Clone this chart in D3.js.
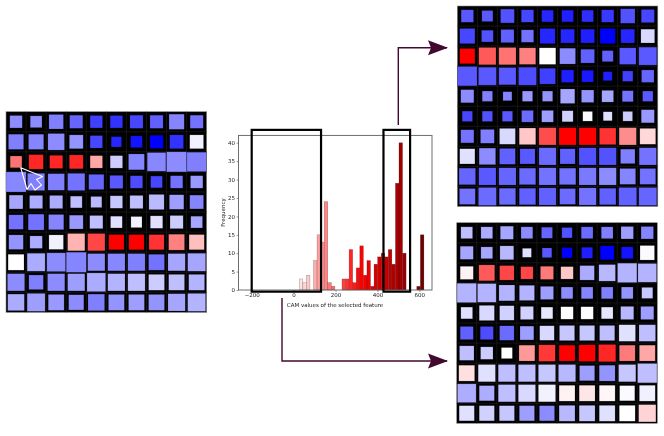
<!DOCTYPE html>
<html lang="en">
<head>
  <meta charset="UTF-8">
  <title>CAM values of the selected feature</title>
  <script src="https://cdn.jsdelivr.net/npm/d3@7"></script>
  <style>
    body{ margin:0; padding:0; background:#fff; }
    /* the reference is a downscaled figure, everything in it is a bit soft */
    svg{ display:block; font-family:"DejaVu Sans",sans-serif; filter:blur(0.35px); }
    .axis text{ font-size:5.5px; fill:#222; font-family:"DejaVu Sans",sans-serif; }
    .axis line{ stroke:#444; stroke-width:0.5; }
    .axis path{ display:none; }
    .axisLabel{ font-size:5.5px; fill:#222; }
    .spine{ fill:none; stroke:#5f5f5f; stroke-width:0.9; }
    .bar{ stroke:#000; stroke-opacity:0.35; stroke-width:0.5; }
    .window{ fill:none; stroke:#000; stroke-width:2.2; }
    .link{ fill:none; stroke:#43082f; stroke-width:1.4; }
    .head{ fill:#43082f; }
    .frame{ fill:#000; stroke:#8a8a8a; stroke-width:0.6; }
    .gridLine{ stroke:#222; stroke-width:0.6; }
    .cell{ stroke:#000; stroke-opacity:0.3; stroke-width:0.5; }
    .cursor{ fill:none; stroke:#fff; stroke-width:1.1; stroke-linejoin:round; }
  </style>
</head>
<body>
<div id="chart"></div>
<script>
// histogram
const binStarts = [27,44,61,78,95,112,129,146,163,180,197,214,231,248,265,282,299,316,333,350,367,384,401,418,435,452,469,486,503,520,537,554,571,588,605];
const binCounts = [3,2,4,0,8,15,13,24,2,1,0,0,3,3,11,2,6,12,4,8,1,7,9,10,9,11,7,29,40,10,0,0,0,1,15];
const binWidth = 17;
const xTicks = [-200,0,200,400,600];
const yTicks = [0,5,10,15,20,25,30,35,40];
const windowLeft = [-200,131];
const windowRight = [429,556];

// cell colour (-1 blue .. 1 red) and cell magnitude (58 = full cell)
const leftValues = [
  [-.45,-.45,-.5,-.6,-.75,-.8,-.72,-.62,-.48,-.55],
  [-.5,-.48,-.45,-.42,-.72,-.85,-.92,-1,-.8,-.05],
  [.55,.85,.85,.85,.35,-.2,-.48,-.47,-.45,-.5],
  [-.47,-.5,-.5,-.55,-.6,-.65,-.7,-.72,-.55,-.4],
  [-.35,-.33,-.33,-.25,-.27,-.22,-.25,-.27,-.38,-.48],
  [-.55,-.55,-.48,-.4,-.25,-.12,-.05,-.12,-.2,-.35],
  [-.42,-.32,-.05,.3,.72,1,1,.8,.5,.25],
  [0,-.33,-.45,-.48,-.45,-.47,-.5,-.55,-.35,-.35],
  [-.45,-.5,-.45,-.38,-.33,-.3,-.25,-.2,-.25,-.3],
  [-.33,-.38,-.4,-.45,-.5,-.42,-.38,-.42,-.35,-.3]
];
const leftSizes = [
  [36,34,42,38,36,36,38,38,44,38],
  [44,44,48,40,36,30,34,38,40,40],
  [34,42,38,40,36,36,46,54,58,56],
  [58,50,48,50,44,38,36,34,36,36],
  [40,38,38,34,32,36,38,44,42,40],
  [42,46,44,40,38,34,32,36,38,34],
  [42,36,42,50,50,44,44,44,46,44],
  [46,52,54,58,50,50,50,46,50,52],
  [50,42,50,50,54,50,50,46,46,46],
  [48,52,46,44,48,46,46,46,50,52]
];
const topValues = [
  [-.65,-.65,-.68,-.72,-.85,-.88,-.82,-.78,-.68,-.72],
  [-.72,-.68,-.62,-.55,-.85,-.85,-.88,-1,-.85,-.15],
  [1,.65,.55,.5,0,-.45,-.62,-.62,-.65,-.65],
  [-.65,-.65,-.65,-.7,-.75,-.88,-.9,-.88,-.75,-.6],
  [-.45,-.5,-.48,-.4,-.42,-.35,-.42,-.35,-.55,-.65],
  [-.72,-.68,-.65,-.58,-.38,-.18,-.02,-.12,-.2,-.4],
  [-.55,-.5,-.15,.22,.7,1,1,.8,.45,.15],
  [-.12,-.45,-.62,-.65,-.58,-.62,-.68,-.68,-.5,-.55],
  [-.6,-.65,-.6,-.58,-.55,-.55,-.52,-.45,-.48,-.55],
  [-.55,-.58,-.58,-.62,-.62,-.58,-.55,-.62,-.62,-.6]
];
const topSizes = [
  [36,32,40,36,34,34,34,36,42,38],
  [44,34,38,36,44,40,40,44,40,40],
  [44,50,50,48,48,46,40,32,48,52],
  [56,52,50,52,46,36,34,26,30,36],
  [38,30,26,30,30,42,36,34,32,30],
  [30,30,30,34,34,32,28,26,28,38],
  [38,40,46,48,50,50,50,48,50,46],
  [44,48,46,44,50,44,50,50,42,50],
  [48,50,50,48,50,48,50,50,46,46],
  [46,52,48,48,50,46,50,48,52,52]
];
const bottomValues = [
  [-.25,-.32,-.35,-.45,-.6,-.68,-.58,-.5,-.38,-.48],
  [-.35,-.35,-.28,-.12,-.65,-1,-.88,-1,-.92,-.02],
  [.05,.65,.72,.72,.52,.22,-.33,-.28,-.3,-.3],
  [-.3,-.3,-.3,-.3,-.38,-.45,-.48,-.5,-.42,-.22],
  [-.12,-.15,-.18,-.18,-.1,0,0,-.1,-.28,-.38],
  [-.62,-.7,-.58,-.38,-.15,-.22,-.22,-.25,-.12,-.25],
  [-.25,-.2,0,.4,.78,1,1,.85,.52,.35],
  [.12,-.12,-.25,-.25,-.22,-.28,-.38,-.42,-.22,-.25],
  [-.32,-.32,-.25,-.15,-.05,.05,.1,.03,-.02,-.06],
  [-.12,-.18,-.22,-.38,-.45,-.28,-.22,-.12,0,.17]
];
const bottomSizes = [
  [34,34,38,34,32,30,34,34,36,36],
  [38,34,40,26,28,30,32,40,34,42],
  [38,46,42,36,38,36,42,48,56,54],
  [56,54,46,44,38,34,34,34,34,32],
  [34,44,42,38,34,36,36,34,38,38],
  [38,38,42,40,42,44,44,44,48,48],
  [42,36,32,46,48,46,48,50,46,46],
  [46,50,50,50,50,50,44,46,50,56],
  [54,44,50,50,50,46,46,46,44,46],
  [44,44,44,44,44,46,46,46,46,50]
];

let svg = d3.select("#chart").append("svg").attr("width", 664).attr("height", 436);

let cellColor = d3.scaleLinear().domain([-1,0,1]).range(["#0000ff","#ffffff","#ff0000"]);
let cellSize = d3.scaleLinear().domain([0,58]);
let indexes = d3.range(10);

function drawMatrix(x0, y0, side, values, sizes){
  let col = d3.scaleBand().domain(indexes).range([x0, x0+side]);
  let row = d3.scaleBand().domain(indexes).range([y0, y0+side]);
  cellSize.range([0, col.bandwidth()]);

  let g = svg.append("g");
  g.append("rect").attr("class","frame").attr("x",x0).attr("y",y0).attr("width",side).attr("height",side);

  // faint lines between the cells
  g.selectAll(".gridV").data(indexes.slice(1)).enter().append("line").attr("class","gridLine")
    .attr("x1",d=>col(d)).attr("x2",d=>col(d)).attr("y1",y0).attr("y2",y0+side);
  g.selectAll(".gridH").data(indexes.slice(1)).enter().append("line").attr("class","gridLine")
    .attr("y1",d=>row(d)).attr("y2",d=>row(d)).attr("x1",x0).attr("x2",x0+side);

  let cells = [];
  values.forEach((r,i)=>r.forEach((v,j)=>cells.push({i:i, j:j, v:v, s:sizes[i][j]})));

  g.selectAll(".cell").data(cells).enter().append("rect").attr("class","cell")
    .attr("x",d=>col(d.j)+(col.bandwidth()-cellSize(d.s))/2)
    .attr("y",d=>row(d.i)+(row.bandwidth()-cellSize(d.s))/2)
    .attr("width",d=>cellSize(d.s))
    .attr("height",d=>cellSize(d.s))
    .attr("fill",d=>cellColor(d.v));
}

drawMatrix(6, 111.7, 200.7, leftValues, leftSizes);
drawMatrix(457.3, 6, 200.5, topValues, topSizes);
drawMatrix(456.7, 222.7, 200.6, bottomValues, bottomSizes);

// mouse pointer on the left matrix
svg.append("path").attr("class","cursor")
  .attr("d","M20.7,167.7 L27,189.5 L31,183.5 L35,190 L41.5,185 L36.5,179.5 L42.5,176.5 Z");

// histogram
let x = d3.scaleLinear().domain([-263,660.6]).range([238.5,432]);
let y = d3.scaleLinear().domain([0,42]).range([290,135.4]);
let barColor = d3.scaleLinear().domain([0,320,630]).range(["#ffffff","#ff0000","#660000"]);

let bins = binStarts.map((s,i)=>({start:s, count:binCounts[i]})).filter(d=>d.count>0);

svg.selectAll(".bar").data(bins).enter().append("rect").attr("class","bar")
  .attr("x",d=>x(d.start))
  .attr("y",d=>y(d.count))
  .attr("width",d=>x(d.start+binWidth)-x(d.start))
  .attr("height",d=>y(0)-y(d.count))
  .attr("fill",d=>barColor(d.start+binWidth/2));

svg.append("rect").attr("class","spine")
  .attr("x",x.range()[0]).attr("y",y.range()[1])
  .attr("width",x.range()[1]-x.range()[0]).attr("height",y.range()[0]-y.range()[1]);

svg.append("g").attr("class","axis").attr("transform","translate(0,"+y(0)+")")
  .call(d3.axisBottom(x).tickValues(xTicks).tickSize(2).tickPadding(1.5));
svg.append("g").attr("class","axis").attr("transform","translate("+x.range()[0]+",0)")
  .call(d3.axisLeft(y).tickValues(yTicks).tickSize(2).tickPadding(1.5));

svg.append("text").attr("class","axisLabel")
  .attr("x",335).attr("y",306.5).attr("text-anchor","middle")
  .text("CAM values of the selected feature");
svg.append("text").attr("class","axisLabel")
  .attr("transform","translate(224.5,212.5) rotate(-90)").attr("text-anchor","middle")
  .text("Frequency");

// selected windows
[windowLeft, windowRight].forEach(function(w){
  svg.append("rect").attr("class","window")
    .attr("x",x(w[0])).attr("y",y(43.5))
    .attr("width",x(w[1])-x(w[0])).attr("height",y(-0.45)-y(43.5));
});

// arrows to the two matrices on the right
function arrow(points){
  svg.append("path").attr("class","link").attr("d",d3.line()(points));
  let end = points[points.length-1];
  svg.append("path").attr("class","head")
    .attr("d",d3.line()([[end[0]-19,end[1]-7.5],[end[0]+1,end[1]],[end[0]-19,end[1]+7.5],[end[0]-16,end[1]]])+"Z");
}
arrow([[398.3,125],[398.3,47.7],[447,47.7]]);
arrow([[282,298],[282,361],[447,361]]);
</script>
</body>
</html>
